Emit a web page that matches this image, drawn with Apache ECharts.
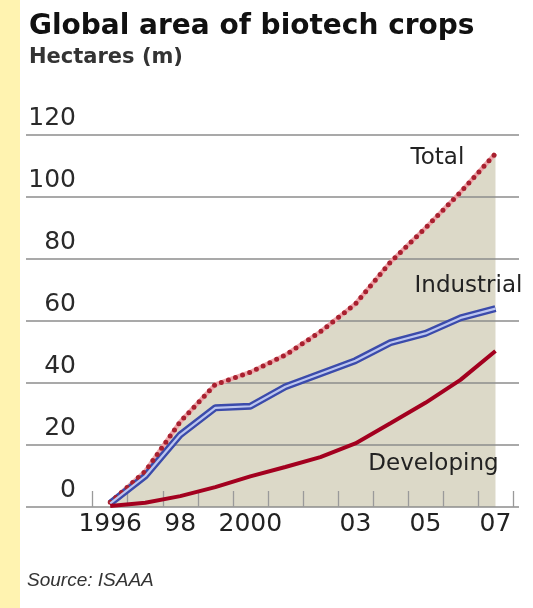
<!DOCTYPE html>
<html>
<head>
<meta charset="utf-8">
<title>Global area of biotech crops</title>
<script src="https://cdn.jsdelivr.net/npm/echarts@6/dist/echarts.min.js"></script>
<style>
  html, body { margin: 0; padding: 0; background: #ffffff; }
  #chart { width: 533px; height: 608px; }
</style>
</head>
<body>
<div id="chart"></div>
<script>
// Hectares (m) of biotech crops, by year
const years = ['1996', '1997', '1998', '1999', '2000', '2001', '2002', '2003', '2004', '2005', '2006', '2007'];
const yearLabels = { '1996': '1996', '1998': '98', '2000': '2000', '2003': '03', '2005': '05', '2007': '07' };
const total      = [1.5, 11.5, 27.5, 39.5, 43.5, 49, 56.5, 65.5, 79, 90, 101.5, 114];
const industrial = [1.2, 10, 23.3, 32, 32.5, 38.8, 43, 47.2, 53, 56, 61, 64];
const developing = [0.3, 1.4, 3.5, 6.4, 9.9, 12.9, 16.1, 20.5, 27, 33.6, 41, 50.3];
const yMin = 0, yMax = 120, yStep = 20;

const labelFont = 'DejaVu Sans';

// invisible anchor carrying a series name label, placed in data coordinates
function seriesLabel(text, year, value, dx) {
  return {
    symbol: 'circle',
    symbolSize: 1,
    itemStyle: { color: 'rgba(0,0,0,0)' },
    label: {
      show: true,
      position: 'inside',
      formatter: text,
      offset: [dx, 0],
      fontFamily: labelFont,
      fontSize: 23,
      color: '#222'
    },
    data: [{ coord: [year, value] }]
  };
}

const chart = echarts.init(document.getElementById('chart'), null, { renderer: 'canvas' });

chart.setOption({
  animation: false,
  backgroundColor: '#ffffff',
  title: {
    text: 'Global area of biotech crops',
    subtext: 'Hectares (m)',
    left: 24,
    top: 8,
    itemGap: 6,
    textStyle: { fontFamily: labelFont, fontWeight: 'bold', fontSize: 28, color: '#111' },
    subtextStyle: { fontFamily: labelFont, fontWeight: 'bold', fontSize: 21, color: '#333' }
  },
  graphic: [
    { type: 'rect', left: 0, top: 0, shape: { width: 20, height: 608 }, style: { fill: '#fff3b0' }, z: 0 },
    {
      type: 'text', left: 27, top: 571,
      style: { text: 'Source: ISAAA', font: 'italic 19px "Liberation Sans"', fill: '#333' }
    }
  ],
  grid: [
    // wide grid: horizontal rules and value labels
    { left: 26, right: 14, top: 135, bottom: 101 },
    // data grid
    { left: 92.7, right: 20, top: 135, bottom: 101 }
  ],
  xAxis: [
    { gridIndex: 0, type: 'value', min: 0, max: 1, show: false },
    {
      gridIndex: 1,
      type: 'category',
      data: years,
      boundaryGap: true,
      z: 3,
      axisLine: { show: false },
      axisTick: { show: true, interval: 0, inside: true, length: 16, lineStyle: { color: '#9a9a9a', width: 1.3 } },
      axisLabel: {
        interval: 0,
        margin: 5,
        formatter: v => yearLabels[v] || '',
        fontFamily: labelFont,
        fontSize: 25,
        color: '#222'
      },
      splitLine: { show: false }
    }
  ],
  yAxis: [
    {
      gridIndex: 0,
      type: 'value',
      min: yMin, max: yMax, interval: yStep,
      z: 3,
      axisLine: { show: false },
      axisTick: { show: false },
      splitLine: { show: true, lineStyle: { color: '#8c8c8c', width: 1.6 } },
      axisLabel: {
        inside: true,
        align: 'right',
        verticalAlign: 'bottom',
        margin: 50,
        padding: [0, 0, 4, 0],
        fontFamily: labelFont,
        fontSize: 25,
        color: '#2a2a2a',
        showMinLabel: true,
        showMaxLabel: true
      }
    },
    { gridIndex: 1, type: 'value', min: yMin, max: yMax, show: false }
  ],
  series: [
    {
      name: 'Total area',
      type: 'line',
      xAxisIndex: 1, yAxisIndex: 1,
      data: total,
      symbol: 'none',
      lineStyle: { width: 0, opacity: 0 },
      areaStyle: { color: '#dcd9c8', opacity: 1 },
      z: 1,
      silent: true
    },
    {
      name: 'Total halo',
      type: 'line',
      xAxisIndex: 1, yAxisIndex: 1,
      data: total,
      symbol: 'none',
      lineStyle: { color: '#eea6aa', width: 4.5 },
      z: 5
    },
    {
      name: 'Total',
      type: 'line',
      xAxisIndex: 1, yAxisIndex: 1,
      data: total,
      symbol: 'none',
      lineStyle: { color: '#a8202f', width: 5, type: [0, 7.5], cap: 'round' },
      z: 6,
      markPoint: seriesLabel('Total', '2005', 112.6, 12)
    },
    {
      name: 'Industrial outline',
      type: 'line',
      xAxisIndex: 1, yAxisIndex: 1,
      data: industrial,
      symbol: 'none',
      lineStyle: { color: '#3b4bab', width: 7 },
      z: 5
    },
    {
      name: 'Industrial',
      type: 'line',
      xAxisIndex: 1, yAxisIndex: 1,
      data: industrial,
      symbol: 'none',
      lineStyle: { color: '#bcc6f0', width: 2.2 },
      z: 6,
      markPoint: seriesLabel('Industrial', '2006', 71.3, 8)
    },
    {
      name: 'Developing',
      type: 'line',
      xAxisIndex: 1, yAxisIndex: 1,
      data: developing,
      symbol: 'none',
      lineStyle: { color: '#a3001f', width: 4 },
      z: 6,
      markPoint: seriesLabel('Developing', '2005', 13.9, 8)
    }
  ]
});
</script>
</body>
</html>
